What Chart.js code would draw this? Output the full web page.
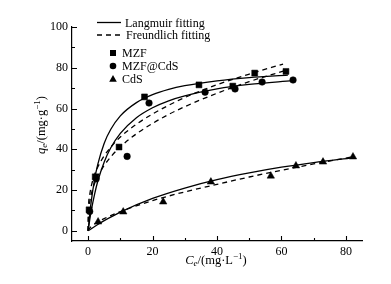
<!DOCTYPE html>
<html><head><meta charset="utf-8">
<script src="https://cdn.jsdelivr.net/npm/chart.js@4.4.0/dist/chart.umd.min.js"></script>
<style>html,body{margin:0;padding:0;background:#fff}#w{width:391px;height:284px;position:relative}</style>
</head><body><div id="w"><canvas id="c"></canvas></div>
<script>
const xTicks=[0,20,40,60,80];
const yTicks=[0,20,40,60,80,100];
const xMinor=[10,30,50,70];
const yMinor=[10,30,50,70,90];

const mzfX=[0.3,2.2,9.6,17.5,34.4,44.9,51.7,61.4];
const mzfY=[10.3,26.5,41.1,65.7,71.6,71.0,77.4,78.2];
const mzfcdsX=[0.5,2.5,12.1,18.9,36.3,45.6,54.0,63.6];
const mzfcdsY=[9.5,25.5,36.5,62.7,68.0,69.6,73.0,74.0];
const cdsX=[3.1,10.9,23.3,38.1,56.7,64.5,72.9,82.2];
const cdsY=[4.4,9.3,14.2,24.0,26.9,31.9,33.8,36.3];

const langMzfX=[0,0.5,1,2,3,5,7,10,15,20,25,30,40,50,62];
const langMzfY=[0,8.1,14.8,25.1,32.6,43,49.7,56.4,62.9,66.8,69.4,71.2,73.6,75.2,76.4];
const langMcX=[0,0.5,1,2,3,5,7,10,15,20,25,30,40,50,63.5];
const langMcY=[0,5.4,10.1,17.9,24.3,33.8,40.6,47.8,55.5,60.4,63.8,66.2,69.6,71.8,73.7];
const freMzfX=[0,0.1,0.5,1,2,3,5,7,10,15,20,25,30,40,50,60.5];
const freMzfY=[0,10.5,17.6,22,27.5,31.3,36.8,41,46,52.3,57.3,61.6,65.4,71.7,76.9,81.8];
const freMcX=[0,0.1,0.5,1,2,3,5,7,10,15,20,25,30,40,50,61.7];
const freMcY=[0,8.0,14.1,18.1,23.2,26.8,32.1,36.2,41.2,47.6,52.7,57.1,60.9,67.5,73.2,78.9];
const langCdsX=[0,3,5,10,20,30,40,50,60,70,82];
const langCdsY=[0,3.1,5.0,9.2,15.9,21.0,25.1,28.4,31.2,33.5,35.8];
const freCdsX=[0,0.3,1,3,5,10,20,30,40,50,60,70,82];
const freCdsY=[0,0.9,2.1,4.3,6.0,9.4,14.8,19.1,22.8,26.4,29.7,32.8,36.3];

const FONT="'Liberation Serif','Times New Roman',serif";
const pts=(xs,ys)=>xs.map((x,i)=>({x:x,y:ys[i]}));

function fitLine(xs,ys,dash){
  return {type:'line',data:pts(xs,ys),borderColor:'#000',borderWidth:1.3,borderDash:dash,
    pointRadius:0,fill:false,cubicInterpolationMode:'monotone'};
}
function scat(xs,ys,style,r){
  return {type:'scatter',data:pts(xs,ys),pointStyle:style,pointRadius:r,
    backgroundColor:'#000',borderColor:'#000',borderWidth:0.5};
}

function drawParts(ctx,parts,size){
  let w=0;
  parts.forEach(p=>{ctx.font=(p.it?'italic ':'')+(p.s?size*0.72:size)+'px '+FONT; p.w=ctx.measureText(p.t).width; w+=p.w;});
  let x=-w/2;
  parts.forEach(p=>{
    ctx.font=(p.it?'italic ':'')+(p.s?size*0.72:size)+'px '+FONT;
    let dy=p.s==='sub'?3:(p.s==='sup'?-4:0);
    ctx.fillText(p.t,x,dy); x+=p.w;
  });
}

const deco={id:'deco',afterDraw(chart){
  const ctx=chart.ctx, xs=chart.scales.x, ys=chart.scales.y;
  const ca=chart.chartArea;
  ctx.save();
  ctx.strokeStyle='#000'; ctx.fillStyle='#000'; ctx.lineWidth=1.1;
  ctx.beginPath();
  xTicks.forEach(v=>{const p=Math.round(xs.getPixelForValue(v))+0.5; ctx.moveTo(p,ca.bottom); ctx.lineTo(p,ca.bottom-5);});
  xMinor.forEach(v=>{const p=Math.round(xs.getPixelForValue(v))+0.5; ctx.moveTo(p,ca.bottom); ctx.lineTo(p,ca.bottom-3);});
  yTicks.forEach(v=>{const p=Math.round(ys.getPixelForValue(v))+0.5; ctx.moveTo(ca.left,p); ctx.lineTo(ca.left+5,p);});
  yMinor.forEach(v=>{const p=Math.round(ys.getPixelForValue(v))+0.5; ctx.moveTo(ca.left,p); ctx.lineTo(ca.left+3,p);});
  ctx.stroke();
  // legend
  ctx.textBaseline='middle'; ctx.textAlign='left';
  ctx.font='12px '+FONT;
  ctx.lineWidth=1.3;
  ctx.beginPath(); ctx.moveTo(97,22.5); ctx.lineTo(121,22.5); ctx.stroke();
  ctx.fillText('Langmuir fitting',125,23.5);
  ctx.setLineDash([5,4]);
  ctx.beginPath(); ctx.moveTo(97,35); ctx.lineTo(121,35); ctx.stroke();
  ctx.setLineDash([]);
  ctx.fillText('Freundlich fitting',126,36);
  ctx.fillRect(110,50,6,6);
  ctx.fillText('MZF',122,53.5);
  ctx.beginPath(); ctx.arc(113,66,3.3,0,Math.PI*2); ctx.fill();
  ctx.fillText('MZF@CdS',122,66.5);
  ctx.beginPath(); ctx.moveTo(113,75); ctx.lineTo(116.8,81.8); ctx.lineTo(109.2,81.8); ctx.closePath(); ctx.fill();
  ctx.fillText('CdS',122,79.5);
  // axis titles
  ctx.textAlign='left'; ctx.textBaseline='middle';
  ctx.save(); ctx.translate(216,261);
  drawParts(ctx,[{t:'C',it:1},{t:'e',it:1,s:'sub'},{t:'/(mg·L'},{t:'−1',s:'sup'},{t:')'}],12.5);
  ctx.restore();
  ctx.save(); ctx.translate(42,125); ctx.rotate(-Math.PI/2);
  drawParts(ctx,[{t:'q',it:1},{t:'e',it:1,s:'sub'},{t:'/(mg·g'},{t:'−1',s:'sup'},{t:')'}],12.5);
  ctx.restore();
  ctx.restore();
}};

new Chart(document.getElementById('c'),{
  data:{datasets:[
    scat(mzfX,mzfY,'rect',4.2),
    scat(mzfcdsX,mzfcdsY,'circle',3.3),
    scat(cdsX,cdsY,'triangle',4.3),
    fitLine(langMzfX,langMzfY,[]),
    fitLine(langMcX,langMcY,[]),
    fitLine(freMzfX,freMzfY,[5,4]),
    fitLine(freMcX,freMcY,[5,4]),
    fitLine(langCdsX,langCdsY,[]),
    fitLine(freCdsX,freCdsY,[5,4])
  ]},
  options:{
    responsive:true,maintainAspectRatio:false,animation:false,
    layout:{padding:{left:0,right:29,top:27,bottom:0}},
    plugins:{legend:{display:false},tooltip:{enabled:false}},
    scales:{
      x:{type:'linear',min:-5,max:85,
        afterBuildTicks:s=>{s.ticks=xTicks.map(v=>({value:v}));},
        afterFit:s=>{s.height=43;},
        grid:{display:false,drawTicks:false},
        border:{display:true,color:'#000',width:1.2},
        ticks:{color:'#000',font:{family:FONT,size:12},padding:4,maxRotation:0,autoSkip:false}},
      y:{type:'linear',min:-5,max:100,
        afterBuildTicks:s=>{s.ticks=yTicks.map(v=>({value:v}));},
        afterFit:s=>{s.width=72;},
        grid:{display:false,drawTicks:false},
        border:{display:true,color:'#000',width:1.2},
        ticks:{color:'#000',font:{family:FONT,size:12},padding:4,autoSkip:false}}
    }
  },
  plugins:[deco]
});
</script></body></html>
